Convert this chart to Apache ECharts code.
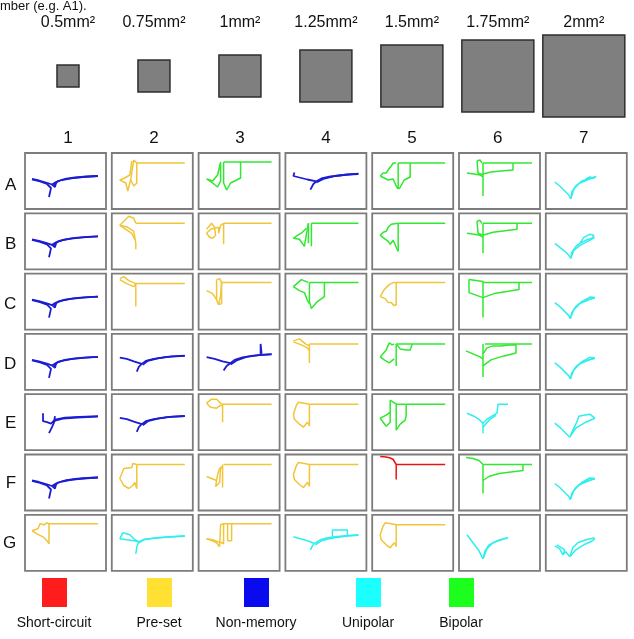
<!DOCTYPE html>
<html>
<head>
<meta charset="utf-8">
<script src="https://cdn.jsdelivr.net/npm/echarts@6/dist/echarts.min.js"></script>
<style>
  html, body { margin: 0; padding: 0; background: #fff; }
  #chart { width: 634px; height: 639px; }
</style>
</head>
<body>
<div id="chart"></div>
<script>
// electrode areas (mm2) shown as grey squares above the columns
const areas = [0.5, 0.75, 1, 1.25, 1.5, 1.75, 2];
const areaLabels = ['0.5mm²', '0.75mm²', '1mm²', '1.25mm²', '1.5mm²', '1.75mm²', '2mm²'];
const colNames = ['1', '2', '3', '4', '5', '6', '7'];
const rowNames = ['A', 'B', 'C', 'D', 'E', 'F', 'G'];

const classes = ['Short-circuit', 'Pre-set', 'Non-memory', 'Unipolar', 'Bipolar'];
const classColors = { 'Short-circuit': '#e81414', 'Pre-set': '#f0c53a', 'Non-memory': '#1c1cd0', 'Unipolar': '#30eeee', 'Bipolar': '#30e830' };
const legendColors = ['#ff1c1c', '#ffe033', '#0a0aee', '#1cffff', '#1cff1c'];

// traced I-V sweeps, in panel units (x 0..81, y 0..56 top-down)
const shapes = {
  nm: [[[7,26],[14,27.5],[21,29.5],[27,31.5],[31,29],[37,27],[46,25.3],[58,24],[73,23]],
       [[7,26.5],[15,28.5],[22,31],[26,35],[24,44]],
       [[29,32],[33,28],[40,26],[50,24.5],[62,23.5],[73,23]],
       [[27,31.5],[30,34],[31,30]]],
  nmA4: [[[9,19.4],[8,23],[14,24.5],[22,26.5],[31,28.3]],
         [[25,36.7],[28,31],[31,28.3]],
         [[31,28.3],[36,25.5],[45,23.5],[58,22],[73,20.7]],
         [[31,29.5],[38,26],[50,23],[62,21.5],[73,21]]],
  nmD2: [[[8,23.7],[15,25],[22,27.5],[30,30],[34,27],[42,25],[55,23],[73,22]],
         [[25,37.7],[27,33],[30,30]],
         [[31,31],[36,27],[46,24.5],[60,22.5],[73,21.8]]],
  nmD3: [[[8,23.3],[16,25],[24,27.5],[31.7,29.3],[36,26],[44,23.5],[55,21.8],[73,20.3]],
         [[25,36.7],[28,32],[31.7,29.3]],
         [[32,30.5],[38,26.5],[48,23],[62,21],[73,20.5]],
         [[62,20.5],[62,10],[63,20]]],
  nmE1: [[[18,19],[18,27],[22,28],[26,29.5],[30,25.5],[40,23.5],[55,22.7],[73,22]],
         [[24,39],[27,33],[30,26]],
         [[29,28],[30,22]],
         [[30,26.5],[38,24.5],[52,23.3],[73,22.5]]],
  yA2: [[[25,10],[73,10]],
        [[25,10],[22,7],[20,8],[19,26],[16,38],[14,30],[8,27],[13,25],[18,22],[20,8]],
        [[25,10],[25,30],[22,33],[19,27]]],
  yB2: [[[24,10],[73,10]],
        [[24,10],[22,5],[17,3],[15,5],[8,12],[12,13],[16,14],[22,18],[24,30],[24,36]],
        [[8,12],[14,16],[20,20],[23,26]]],
  yB3: [[[25,10],[73,10]],
        [[25,10],[25,31]],
        [[8,16],[13,10],[16,14],[17,22],[14,25],[11,24],[8,20],[12,16],[20,14],[20,20],[22,12],[25,10]]],
  yC2: [[[24,10],[73,10]],
        [[8,5],[12,3],[17,7],[24,10],[24,33]],
        [[8,6],[15,10],[22,13],[24,10]]],
  yC3: [[[23,9],[73,9]],
        [[8,17],[14,20],[18,26],[20,31],[22,22],[23,9]],
        [[18,6],[21,5],[23,9],[23,30],[20,31]],
        [[18,6],[18,26]]],
  yC5: [[[24,9],[73,9]],
        [[24,9],[24,32]],
        [[8,23],[12,16],[17,11],[21,9],[24,9]],
        [[8,23],[13,25],[16,29],[19,29],[21,27],[22,32],[24,31]]],
  yD4: [[[24,10],[73,10]],
        [[24,10],[24,29]],
        [[8,7],[14,5],[20,10],[24,12]],
        [[8,8],[16,11],[22,14],[24,17]]],
  yE3: [[[24,10],[73,10]],
        [[24,10],[24,28]],
        [[8,9],[13,5],[18,5],[22,9],[24,10]],
        [[8,9],[12,13],[18,14],[22,11],[24,12]]],
  yD: [[[24,10],[73,10]],
       [[24,10],[24,32]],
       [[24,10],[19,9],[13,8],[11,11],[8,20],[9,25],[14,30],[18,33],[22,28],[24,31]]],
  yF2: [[[25,10],[73,10]],
        [[25,10],[25,34]],
        [[25,10],[21,9],[20,13],[12,14],[8,24],[12,31],[17,34],[21,31],[23,28],[25,34]]],
  yF3: [[[25,10],[73,10]],
        [[24,10],[24,33]],
        [[8,22],[13,24],[18,26],[19,20],[21,14],[23,12]],
        [[18,26],[17,32],[19,33],[21,28],[22,14],[24,12]]],
  yG1: [[[24,9],[73,9]],
        [[24,9],[24,29]],
        [[7,16],[13,14],[15,9],[19,10],[22,8],[24,9]],
        [[7,16],[12,19],[18,22],[22,26],[24,29]]],
  yG3: [[[25,9],[73,9]],
        [[8,24],[14,26],[18,28],[21,32]],
        [[21,32],[22,10],[25,9],[25,29],[23,28]],
        [[29,9],[29,26],[33,26],[33,9]],
        [[8,24],[14,25],[19,27],[24,28]]],
  gA3: [[[25,9],[73,9]],
        [[42,9],[42,25],[32,30],[28,37],[25,30],[25,9]],
        [[22,9],[22,28],[19,34],[14,30],[8,26],[14,28],[19,22],[22,9]]],
  gC4: [[[24,9],[73,9]],
        [[39,9],[39,23],[32,28],[26,35],[24,28],[24,9]],
        [[8,13],[16,6],[21,8],[23,9]],
        [[8,13],[14,17],[19,19],[22,27],[24,30]]],
  gA5: [[[26,10],[73,10]],
        [[26,10],[26,36]],
        [[38,10],[38,24],[32,27],[27,36]],
        [[8,23],[11,20],[14,20],[16,17],[19,13],[21,10],[24,10]],
        [[8,23],[12,25],[16,27],[18,29],[21,26],[24,33],[26,36]]],
  gB5: [[[26,10],[73,10]],
        [[26,10],[26,38]],
        [[8,22],[11,19],[14,18],[16,14],[19,11],[21,9],[26,10]],
        [[8,22],[12,25],[16,28],[18,31],[21,27],[24,34],[26,38]]],
  gA6: [[[24,10],[73,10]],
        [[24,10],[24,43]],
        [[8,20],[15,21],[21,22],[24,24]],
        [[18,8],[21,7],[23,10]],
        [[18,8],[19,20],[24,22]],
        [[24,21],[32,19],[42,18],[54,17],[54,10]]],
  gB6: [[[24,10],[73,10]],
        [[24,10],[24,40]],
        [[8,20],[15,21],[21,22],[24,24]],
        [[18,8],[21,7],[23,10]],
        [[18,8],[19,20],[24,22]],
        [[24,22],[34,19],[46,17.5],[58,16],[58,10]]],
  gC6: [[[24,9],[73,9]],
        [[10,6],[24,8],[24,44]],
        [[10,6],[10,19],[24,24]],
        [[24,24],[35,20],[48,18],[60,16],[60,9]]],
  gD6: [[[26,10],[73,10]],
        [[7,17],[14,20],[21,23],[24,25]],
        [[24,10],[24,43]],
        [[24,20],[28,14],[34,12],[42,12],[50,11],[57,11]],
        [[24,32],[32,26],[45,22],[57,19],[57,10]]],
  gF6: [[[24,10],[73,10]],
        [[7,3],[14,4],[20,6],[23,9],[24,10]],
        [[24,10],[24,39]],
        [[24,26],[30,22],[40,19],[52,17.5],[64,16],[64,10]]],
  gB4: [[[26,10],[73,10]],
        [[23,10],[23,30]],
        [[26,10],[26,33]],
        [[8,25],[14,26],[19,33],[21,21],[23,10]],
        [[8,25],[12,22],[17,19],[21,15]]],
  gD5: [[[24,10],[73,10]],
        [[24,10],[24,32]],
        [[8,23],[14,16],[17,9],[20,11],[22,10]],
        [[8,23],[12,26],[17,29],[19,29],[22,25]],
        [[24,10],[28,15],[30,13],[34,16],[38,16],[40,10]]],
  gE5: [[[34,10],[73,10]],
        [[18,6],[18,28],[14,32],[8,24],[14,21],[18,18]],
        [[18,6],[24,10],[24,36],[28,30],[33,26],[34,21],[34,10]],
        [[24,10],[34,10]]],
  uA7: [[[9,29],[14,33],[19,38],[23,42],[25,46]],
        [[25,46],[26,39],[30,33],[36,28],[42,26],[49,24.5]],
        [[25,46],[28,36],[34,30],[40,27.5],[46,25],[49,24]],
        [[40,26],[44,24],[47,25],[50,24],[49,23]]],
  uB7: [[[9,30],[14,34],[19,38],[23,42],[25,45]],
        [[25,45],[26,39],[30,33],[34,30],[38,24],[44,21],[48,22],[46,25],[40,27],[34,30]],
        [[25,45],[28,37],[34,32],[42,28],[49,24]]],
  u1: [[[9,29],[14,33],[19,38],[23,42],[24.5,45]],
       [[24.5,45],[26,39],[30,33],[36,28],[42,26],[49,24.5]],
       [[24.5,45],[28,36],[34,30],[40,27.5],[46,25],[49,24]],
       [[36,28],[38,26],[44,23.5],[49,24]]],
  uE6: [[[8,19],[15,22],[21,26],[24,29],[24,39]],
        [[24,29],[28,25],[33,22],[38,19],[39,10],[49,10]],
        [[24,33],[30,26],[37,21]]],
  uE7: [[[9,29],[15,34],[20,39],[24,43]],
        [[24,43],[27,36],[31,28],[33,22],[38,21],[44,20],[49,24],[40,28],[30,34],[24,43]]],
  uG2: [[[8,24],[11,18],[15,19],[18,20],[22,24],[27,27]],
        [[8,24],[15,25],[22,26],[27,27]],
        [[27,27],[33,24.5],[45,23],[58,22],[73,21]],
        [[24,39],[25,32],[27,27]],
        [[27,28],[32,25],[42,23.5],[55,22.5],[73,21.5]]],
  uG4: [[[8,22],[15,24],[22,26],[29,28.7]],
        [[25,35],[27,31],[29,28.7]],
        [[29,28.7],[35,25],[42,23],[50,22],[60,21],[73,20]],
        [[47,22],[47,15.3],[62,15.3],[62,21]],
        [[30,30],[36,26],[46,23.5],[60,21.5],[73,20.5]]],
  uG6: [[[8,20],[14,28],[20,36],[24,44]],
        [[24,44],[26,36],[30,30],[38,26],[45,24],[49,23]],
        [[24,44],[28,34],[34,28],[42,25],[49,23]]],
  uG7: [[[9,31],[14,34],[17,40],[20,37],[24,42]],
        [[11,30],[16,33],[19,35],[17,40]],
        [[24,42],[27,33],[32,28],[40,25],[49,23]],
        [[24,42],[30,35],[38,30],[45,27],[49,24]]],
  red: [[[8,2],[14,2.5],[18,3.5],[21,5],[23,7],[24,10],[24,25]],
        [[24,10],[73,10]]]
};

// device classification per row A..G, columns 1..7: [class, traced sweep]
const panels = [
  [['Non-memory','nm'], ['Pre-set','yA2'], ['Bipolar','gA3'], ['Non-memory','nmA4'], ['Bipolar','gA5'], ['Bipolar','gA6'], ['Unipolar','uA7']],
  [['Non-memory','nm'], ['Pre-set','yB2'], ['Pre-set','yB3'], ['Bipolar','gB4'], ['Bipolar','gB5'], ['Bipolar','gB6'], ['Unipolar','uB7']],
  [['Non-memory','nm'], ['Pre-set','yC2'], ['Pre-set','yC3'], ['Bipolar','gC4'], ['Pre-set','yC5'], ['Bipolar','gC6'], ['Unipolar','u1']],
  [['Non-memory','nm'], ['Non-memory','nmD2'], ['Non-memory','nmD3'], ['Pre-set','yD4'], ['Bipolar','gD5'], ['Bipolar','gD6'], ['Unipolar','u1']],
  [['Non-memory','nmE1'], ['Non-memory','nmD2'], ['Pre-set','yE3'], ['Pre-set','yD'], ['Bipolar','gE5'], ['Unipolar','uE6'], ['Unipolar','uE7']],
  [['Non-memory','nm'], ['Pre-set','yF2'], ['Pre-set','yF3'], ['Pre-set','yD'], ['Short-circuit','red'], ['Bipolar','gF6'], ['Unipolar','u1']],
  [['Pre-set','yG1'], ['Unipolar','uG2'], ['Pre-set','yG3'], ['Unipolar','uG4'], ['Pre-set','yD'], ['Unipolar','uG6'], ['Unipolar','uG7']]
];

const chart = echarts.init(document.getElementById('chart'), null, { renderer: 'canvas' });
const FONT = 'Liberation Sans, Arial, sans-serif';

const X0 = 25, Y0 = 153, PITCH_X = 86.8, PITCH_Y = 60.3, PW = 81, PH = 56;

const grid = [], xAxis = [], yAxis = [], series = [];

panels.forEach((row, r) => {
  row.forEach(([cls, shape], c) => {
    const gi = grid.length;
    grid.push({
      left: X0 + c * PITCH_X, top: Y0 + r * PITCH_Y, width: PW, height: PH,
      show: true, borderColor: '#7c7c7c', borderWidth: 1.8, backgroundColor: '#fff'
    });
    xAxis.push({ gridIndex: gi, type: 'value', min: 0, max: PW, show: false });
    yAxis.push({ gridIndex: gi, type: 'value', min: 0, max: PH, inverse: true, show: false });
    shapes[shape].forEach(line => {
      series.push({
        type: 'line', xAxisIndex: gi, yAxisIndex: gi, data: line,
        showSymbol: false, silent: true, smooth: false,
        lineStyle: { color: classColors[cls], width: cls === 'Non-memory' ? 1.8 : 1.5 }
      });
    });
  });
});

// top row: area squares, size labels and column numbers
const topGi = grid.length;
grid.push({ left: X0, top: 40, width: PITCH_X * 6 + PW, height: 72 });
xAxis.push({
  gridIndex: topGi, type: 'category', data: areaLabels, position: 'top',
  axisLine: { show: false }, axisTick: { show: false },
  axisLabel: { color: '#111', fontSize: 16, fontFamily: FONT, margin: 9 }
});
xAxis.push({
  gridIndex: topGi, type: 'category', data: colNames, position: 'bottom',
  axisLine: { show: false }, axisTick: { show: false },
  axisLabel: { color: '#111', fontSize: 17, fontFamily: FONT, margin: 18 }
});
yAxis.push({ gridIndex: topGi, type: 'value', min: -1, max: 1, show: false });
series.push({
  type: 'scatter', xAxisIndex: xAxis.length - 2, yAxisIndex: yAxis.length - 1,
  data: areas.map((a, i) => [i, 0]), symbol: 'rect',
  symbolSize: (v, p) => 40 * areas[p.dataIndex] + 2,
  itemStyle: { color: '#7f7f7f', borderColor: '#2e2e2e', borderWidth: 1.5, opacity: 1 },
  silent: true
});

// row letters
const rowGi = grid.length;
grid.push({ left: X0, top: Y0 + 2, width: 10, height: PITCH_Y * 7 - 4 });
xAxis.push({ gridIndex: rowGi, type: 'value', show: false });
yAxis.push({
  gridIndex: rowGi, type: 'category', data: rowNames, inverse: true,
  axisLine: { show: false }, axisTick: { show: false },
  axisLabel: { color: '#111', fontSize: 17, fontFamily: FONT, margin: 10 }
});

// legend swatches
const legendX = [54, 159, 256, 368, 461];
const graphic = [{
  type: 'text', left: 0, top: 0,
  style: { text: 'mber (e.g. A1).', fontSize: 13, fontFamily: FONT, fill: '#111' }
}];
classes.forEach((name, i) => {
  graphic.push({
    type: 'rect', shape: { x: legendX[i] - 12, y: 578, width: 25, height: 29 },
    style: { fill: legendColors[i] }
  });
  graphic.push({
    type: 'text', x: legendX[i], y: 623,
    style: { text: name, fontSize: 14, fontFamily: FONT, fill: '#111', align: 'center', verticalAlign: 'middle' }
  });
});

chart.setOption({
  backgroundColor: '#fff',
  animation: false,
  grid, xAxis, yAxis, series, graphic
});
</script>
</body>
</html>
